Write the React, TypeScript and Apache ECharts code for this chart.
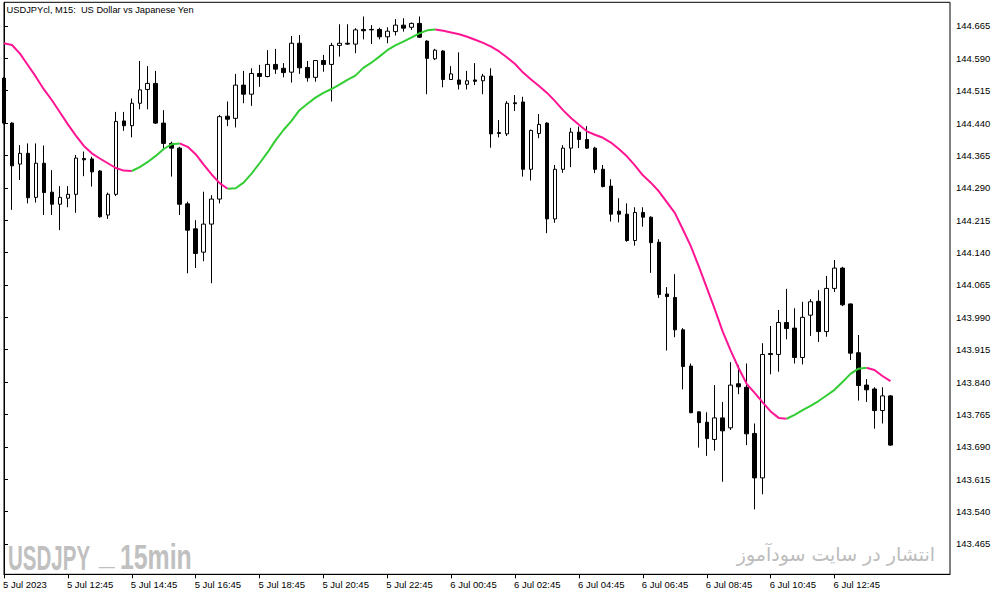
import React, { useEffect, useRef } from 'react';
import * as echarts from 'echarts';

// ---- data (USDJPY M15, bar index 0 = 5 Jul 10:45) ----
const opens = [
  144.544, 144.440, 144.345, 144.370, 144.268, 144.347, 144.280, 144.252, 144.266, 144.275,
  144.358, 144.357, 144.329, 144.227, 144.275, 144.445, 144.434, 144.486, 144.518, 144.532,
  144.440, 144.393, 144.382, 144.253, 144.195, 144.141, 144.206, 144.264, 144.456, 144.451,
  144.528, 144.507, 144.555, 144.548, 144.576, 144.567, 144.558, 144.625, 144.569, 144.546,
  144.585, 144.576, 144.620, 144.625, 144.623, 144.657, 144.657, 144.657, 144.640, 144.652,
  144.667, 144.662, 144.671, 144.630, 144.589, 144.607, 144.541, 144.540, 144.530, 144.540,
  144.538, 144.549, 144.418, 144.415, 144.487, 144.489, 144.333, 144.416, 144.440, 144.218,
  144.333, 144.382, 144.419, 144.402, 144.382, 144.333, 144.294, 144.236, 144.229, 144.168,
  144.233, 144.222, 144.164, 144.044, 144.036, 143.961, 143.877, 143.771, 143.747, 143.707,
  143.757, 143.734, 143.836, 143.828, 143.721, 143.618, 143.906, 143.904, 143.978, 143.965,
  143.897, 143.995, 144.027, 143.957, 144.057, 144.104, 144.021, 143.908, 143.833, 143.824,
  143.774, 143.808,
];
const closes = [
  144.440, 144.341, 144.370, 144.267, 144.347, 144.279, 144.252, 144.268, 144.275, 144.359,
  144.355, 144.327, 144.223, 144.275, 144.444, 144.434, 144.486, 144.517, 144.532, 144.440,
  144.393, 144.382, 144.252, 144.192, 144.138, 144.206, 144.264, 144.455, 144.449, 144.528,
  144.507, 144.555, 144.548, 144.576, 144.565, 144.557, 144.625, 144.568, 144.545, 144.585,
  144.576, 144.620, 144.625, 144.623, 144.656, 144.654, 144.656, 144.640, 144.653, 144.667,
  144.660, 144.671, 144.639, 144.590, 144.609, 144.541, 144.554, 144.530, 144.538, 144.537,
  144.549, 144.415, 144.416, 144.486, 144.485, 144.333, 144.423, 144.437, 144.218, 144.333,
  144.382, 144.419, 144.402, 144.382, 144.333, 144.293, 144.229, 144.229, 144.168, 144.233,
  144.222, 144.163, 144.043, 144.038, 143.961, 143.876, 143.769, 143.746, 143.709, 143.757,
  143.727, 143.833, 143.829, 143.720, 143.618, 143.904, 143.904, 143.978, 143.964, 143.897,
  143.990, 144.026, 143.957, 144.057, 144.104, 144.019, 143.907, 143.832, 143.822, 143.774,
  143.808, 143.694,
];
const lows = [
  144.437, 144.239, 144.308, 144.254, 144.256, 144.227, 144.227, 144.192, 144.245, 144.232,
  144.317, 144.293, 144.221, 144.218, 144.271, 144.422, 144.407, 144.472, 144.472, 144.438,
  144.382, 144.316, 144.227, 144.092, 144.104, 144.120, 144.069, 144.254, 144.433, 144.430,
  144.486, 144.480, 144.524, 144.546, 144.554, 144.546, 144.534, 144.554, 144.536, 144.536,
  144.559, 144.490, 144.594, 144.621, 144.602, 144.634, 144.623, 144.634, 144.625, 144.643,
  144.652, 144.656, 144.637, 144.507, 144.586, 144.523, 144.540, 144.518, 144.518, 144.528,
  144.507, 144.383, 144.407, 144.410, 144.468, 144.316, 144.307, 144.405, 144.185, 144.209,
  144.325, 144.338, 144.382, 144.380, 144.324, 144.291, 144.212, 144.210, 144.165, 144.156,
  144.200, 144.093, 144.035, 143.913, 143.944, 143.823, 143.768, 143.688, 143.669, 143.681,
  143.609, 143.729, 143.812, 143.694, 143.545, 143.580, 143.858, 143.864, 143.939, 143.883,
  143.881, 143.947, 143.933, 143.945, 144.049, 144.016, 143.891, 143.797, 143.794, 143.732,
  143.744, 143.692,
];
const highs = [
  144.547, 144.442, 144.389, 144.393, 144.393, 144.388, 144.331, 144.294, 144.294, 144.366,
  144.374, 144.362, 144.331, 144.279, 144.466, 144.466, 144.497, 144.584, 144.572, 144.561,
  144.470, 144.397, 144.385, 144.258, 144.215, 144.281, 144.273, 144.459, 144.490, 144.554,
  144.561, 144.567, 144.575, 144.609, 144.612, 144.579, 144.642, 144.644, 144.584, 144.586,
  144.598, 144.626, 144.669, 144.669, 144.660, 144.687, 144.667, 144.661, 144.662, 144.681,
  144.683, 144.673, 144.687, 144.632, 144.612, 144.609, 144.572, 144.604, 144.561, 144.579,
  144.554, 144.567, 144.447, 144.491, 144.505, 144.501, 144.425, 144.461, 144.442, 144.343,
  144.389, 144.429, 144.432, 144.433, 144.385, 144.343, 144.310, 144.266, 144.254, 144.245,
  144.245, 144.224, 144.171, 144.060, 144.090, 143.965, 143.883, 143.772, 143.770, 143.833,
  143.794, 143.886, 143.879, 143.883, 143.744, 143.930, 143.970, 144.007, 144.056, 144.011,
  144.026, 144.032, 144.053, 144.086, 144.123, 144.107, 144.022, 143.949, 143.847, 143.828,
  143.828, 143.810,
];
const maValues = [
  144.625, 144.621, 144.601, 144.574, 144.547, 144.518, 144.493, 144.465, 144.437, 144.411,
  144.387, 144.370, 144.358, 144.347, 144.336, 144.330, 144.329, 144.338, 144.350, 144.364,
  144.380, 144.391, 144.393, 144.385, 144.368, 144.344, 144.321, 144.301, 144.288, 144.289,
  144.302, 144.323, 144.347, 144.372, 144.400, 144.424, 144.445, 144.470, 144.485, 144.499,
  144.510, 144.519, 144.529, 144.540, 144.550, 144.568, 144.580, 144.594, 144.609, 144.620,
  144.629, 144.638, 144.648, 144.655, 144.657, 144.654, 144.650, 144.646, 144.640, 144.633,
  144.626, 144.617, 144.606, 144.592, 144.577, 144.557, 144.541, 144.526, 144.510, 144.491,
  144.470, 144.452, 144.436, 144.421, 144.413, 144.406, 144.395, 144.380, 144.363, 144.342,
  144.319, 144.302, 144.282, 144.257, 144.232, 144.194, 144.155, 144.108, 144.059, 144.009,
  143.957, 143.913, 143.872, 143.836, 143.815, 143.793, 143.772, 143.757, 143.755, 143.764,
  143.775, 143.785, 143.796, 143.809, 143.822, 143.840, 143.859, 143.871, 143.873, 143.868,
  143.854, 143.842,
];
const xTickLabels = [
  '5 Jul 2023', '5 Jul 12:45', '5 Jul 14:45', '5 Jul 16:45', '5 Jul 18:45', '5 Jul 20:45',
  '5 Jul 22:45', '6 Jul 00:45', '6 Jul 02:45', '6 Jul 04:45', '6 Jul 06:45', '6 Jul 08:45',
  '6 Jul 10:45', '6 Jul 12:45',
];
const xTickBars = [0, 8, 16, 24, 32, 40, 48, 56, 64, 72, 80, 88, 96, 104];
const yTickLabels = [
  '143.465', '143.540', '143.615', '143.690', '143.765', '143.840', '143.915', '143.990',
  '144.065', '144.140', '144.215', '144.290', '144.365', '144.440', '144.515', '144.590', '144.665',
];
const titleText = 'USDJPYcl, M15:  US Dollar vs Japanese Yen';
const watermarkParts = ['USDJPY', '_', '15min'];
const watermarkRight = 'انتشار در سایت سودآموز';

const FONT = '"Liberation Sans", Arial, sans-serif';
const WM_FONT = `bold 36px ${FONT}`;
const WM_COLOR = '#c0c0c0';

function buildOption() {
  const candleData = opens.map((o, i) => [i, o, closes[i], lows[i], highs[i]]);
  const upLine: any[] = maValues.map((_, i) => [i, '-']);
  const downLine: any[] = maValues.map((_, i) => [i, '-']);
  let prevUp = false;
  for (let i = 1; i < maValues.length; i++) {
    let isUp = prevUp;
    if (maValues[i] > maValues[i - 1]) isUp = true;
    else if (maValues[i] < maValues[i - 1]) isUp = false;
    const target = isUp ? upLine : downLine;
    target[i - 1] = [i - 1, maValues[i - 1]];
    target[i] = [i, maValues[i]];
    prevUp = isUp;
  }
  const yTicks = yTickLabels.map((s) => parseFloat(s));

  return {
    animation: false,
    backgroundColor: '#ffffff',
    grid: {
      left: 2.3,
      top: 2.3,
      right: 53,
      bottom: 21.7,
      show: true,
      borderColor: '#000',
      borderWidth: 1,
      backgroundColor: 'transparent',
    },
    xAxis: {
      type: 'value',
      min: 0,
      max: 118.46,
      axisLine: { show: true, onZero: false, lineStyle: { color: '#000', width: 1 } },
      axisTick: { show: true, customValues: xTickBars, length: 4, lineStyle: { color: '#000' } },
      axisLabel: {
        show: true,
        customValues: xTickBars,
        formatter: (v: number) => xTickLabels[xTickBars.indexOf(Math.round(v))] ?? '',
        align: 'left',
        color: '#000',
        fontSize: 9.5,
        fontFamily: FONT,
        margin: 5,
        padding: [0, 0, 0, -1],
      },
      splitLine: { show: false },
    },
    yAxis: {
      type: 'value',
      position: 'right',
      min: 143.3946,
      max: 144.7199,
      scale: true,
      axisLine: { show: true, lineStyle: { color: '#000', width: 1 } },
      axisTick: { show: true, customValues: yTicks, length: 4, lineStyle: { color: '#000' } },
      axisLabel: {
        show: true,
        customValues: yTicks,
        formatter: (v: number) => v.toFixed(3),
        color: '#000',
        fontSize: 9.5,
        fontFamily: FONT,
        margin: 6,
      },
      splitLine: { show: false },
    },
    series: [
      {
        type: 'candlestick',
        data: candleData,
        barWidth: 4,
        clip: true,
        itemStyle: {
          color: '#ffffff',
          color0: '#000000',
          borderColor: '#000000',
          borderColor0: '#000000',
          borderWidth: 1,
        },
        z: 2,
      },
      {
        type: 'line',
        data: downLine,
        symbol: 'none',
        connectNulls: false,
        lineStyle: { color: '#ff1493', width: 2 },
        z: 3,
      },
      {
        type: 'line',
        data: upLine,
        symbol: 'none',
        connectNulls: false,
        lineStyle: { color: '#32cd32', width: 2 },
        z: 3,
      },
    ],
    graphic: [
      {
        type: 'text',
        x: 6.5,
        y: 10,
        style: { text: titleText, fill: '#000', font: `9.3px ${FONT}`, verticalAlign: 'middle' },
      },
      {
        type: 'text',
        x: 8,
        y: 557,
        scaleX: 0.57,
        style: { text: watermarkParts[0], fill: WM_COLOR, font: WM_FONT, verticalAlign: 'middle' },
        z: 0,
      },
      {
        type: 'text',
        x: 99,
        y: 552,
        scaleX: 0.78,
        style: { text: watermarkParts[1], fill: WM_COLOR, font: WM_FONT, verticalAlign: 'middle' },
        z: 0,
      },
      {
        type: 'text',
        x: 120,
        y: 557,
        scaleX: 0.69,
        style: { text: watermarkParts[2], fill: WM_COLOR, font: WM_FONT, verticalAlign: 'middle' },
        z: 0,
      },
      {
        type: 'text',
        x: 935,
        y: 554,
        style: {
          text: watermarkRight,
          fill: '#bdbdbd',
          font: '19px "DejaVu Sans", sans-serif',
          align: 'right',
          verticalAlign: 'middle',
        },
        z: 0,
      },
    ],
  };
}

export default function App() {
  const ref = useRef<HTMLDivElement>(null);
  useEffect(() => {
    if (!ref.current) return;
    const chart = echarts.init(ref.current, undefined, { renderer: 'svg' });
    chart.setOption(buildOption() as any);
    return () => chart.dispose();
  }, []);
  return (
    <div
      ref={ref}
      style={{ position: 'fixed', left: 0, top: 0, width: 1003, height: 596, background: '#fff' }}
    />
  );
}
